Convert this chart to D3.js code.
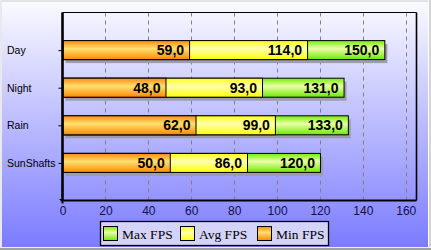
<!DOCTYPE html>
<html>
<head>
<meta charset="utf-8">
<script src="https://cdn.jsdelivr.net/npm/d3@7"></script>
<style>
html,body{margin:0;padding:0;background:#fff;}
svg{display:block;}
</style>
</head>
<body>
<svg id="chart" width="431" height="250"></svg>
<script>
const categories = ["Day", "Night", "Rain", "SunShafts"];
const maxFps = [150, 131, 133, 120];
const avgFps = [114, 93, 99, 86];
const minFps = [59, 48, 62, 50];
const seriesNames = ["Max FPS", "Avg FPS", "Min FPS"];
const xTicks = [0, 20, 40, 60, 80, 100, 120, 140, 160];

const W = 431, H = 250;
const plot = {left: 62.5, right: 416.5, top: 12.5, bottom: 200.5};
const svg = d3.select("#chart");
const defs = svg.append("defs");

const bg = defs.append("linearGradient").attr("id", "bg").attr("x1", 0).attr("y1", 0).attr("x2", 0).attr("y2", 1);
bg.append("stop").attr("offset", "0%").attr("stop-color", "#fbfbff");
bg.append("stop").attr("offset", "100%").attr("stop-color", "#7a7aff");

const grads = {
  "Max FPS": ["#74ee00", "#eaffa8", "#6ee800"],
  "Avg FPS": ["#ffff10", "#ffffb0", "#ffff00"],
  "Min FPS": ["#ff8a10", "#ffe070", "#ff8800"]
};
seriesNames.forEach((s, i) => {
  const g = defs.append("linearGradient").attr("id", "g" + i).attr("x1", 0).attr("y1", 0).attr("x2", 0).attr("y2", 1);
  g.append("stop").attr("offset", "0%").attr("stop-color", grads[s][0]);
  g.append("stop").attr("offset", "42%").attr("stop-color", grads[s][1]);
  g.append("stop").attr("offset", "100%").attr("stop-color", grads[s][2]);
});

svg.append("rect").attr("x", 0).attr("y", 0).attr("width", W).attr("height", H).attr("fill", "url(#bg)");
svg.append("rect").attr("x", 0).attr("y", 0).attr("width", W).attr("height", 2).attr("fill", "#e2e2e2");
svg.append("rect").attr("x", 0).attr("y", 0).attr("width", 2).attr("height", H).attr("fill", "#e8e8ee");
svg.append("rect").attr("x", W - 3).attr("y", 0).attr("width", 1).attr("height", H).attr("fill", "#ffffff");
svg.append("rect").attr("x", W - 2).attr("y", 0).attr("width", 2).attr("height", H).attr("fill", "#d4d4d4");
svg.append("rect").attr("x", 0).attr("y", H - 3).attr("width", W).attr("height", 1).attr("fill", "#f0f0f0");
svg.append("rect").attr("x", 0).attr("y", H - 2).attr("width", W).attr("height", 2).attr("fill", "#a0a0a0");

const x = d3.scaleLinear().domain([0, 165]).range([plot.left, plot.right]);
const y = d3.scalePoint().domain(categories).range([plot.top, plot.bottom]).padding(1);
const barH = 19;

svg.append("g").selectAll("line").data(xTicks.filter(t => t > 0)).join("line")
  .attr("x1", d => Math.round(x(d)) + 0.5).attr("x2", d => Math.round(x(d)) + 0.5)
  .attr("y1", plot.top).attr("y2", plot.bottom)
  .attr("stroke", "#808080").attr("stroke-width", 1).attr("stroke-dasharray", "4,4");

svg.append("line").attr("x1", plot.left).attr("x2", plot.right).attr("y1", plot.top).attr("y2", plot.top)
  .attr("stroke", "#000").attr("stroke-width", 1.2);
svg.append("line").attr("x1", plot.right).attr("x2", plot.right).attr("y1", plot.top).attr("y2", plot.bottom)
  .attr("stroke", "#000").attr("stroke-width", 1.6);

svg.append("g").selectAll("rect").data(categories).join("rect")
  .attr("x", x(0) + 3).attr("y", (d) => y(d) - barH / 2 + 3.5)
  .attr("width", (d, i) => x(maxFps[i]) - x(0))
  .attr("height", barH).attr("fill", "#9c9cae");

const seriesData = [maxFps, avgFps, minFps];
const fmt = v => v.toFixed(1).replace(".", ",");
seriesData.forEach((vals, si) => {
  svg.append("g").selectAll("rect").data(categories).join("rect")
    .attr("x", x(0) + 0.5)
    .attr("y", d => y(d) - barH / 2)
    .attr("width", (d, i) => x(vals[i]) - x(0))
    .attr("height", barH)
    .attr("fill", "url(#g" + si + ")")
    .attr("stroke", "#000").attr("stroke-width", 1);
});
seriesData.forEach((vals) => {
  svg.append("g").selectAll("text").data(categories).join("text")
    .attr("x", (d, i) => x(vals[i]) - 5)
    .attr("y", d => y(d) + 5)
    .attr("text-anchor", "end")
    .attr("font-family", "Liberation Sans, Arial, sans-serif")
    .attr("font-weight", "bold").attr("font-size", 14)
    .attr("fill", "#000")
    .text((d, i) => fmt(vals[i]));
});

const xAxis = d3.axisBottom(x).tickValues(xTicks).tickSize(0).tickPadding(6).tickFormat(d3.format("d"));
const gx = svg.append("g").attr("transform", `translate(0,${plot.bottom})`).call(xAxis);
gx.select(".domain").attr("stroke", "#000").attr("stroke-width", 2.2).attr("d", `M${plot.left - 2},0H${plot.right}`);
gx.selectAll("text").attr("font-family", "Liberation Sans, Arial, sans-serif").attr("font-size", 12).attr("fill", "#10104a");
gx.append("line").attr("x1", plot.left).attr("x2", plot.left).attr("y1", 0).attr("y2", 3).attr("stroke", "#000").attr("stroke-width", 2);

const yAxis = d3.axisLeft(y).tickSize(4).tickFormat("");
const gy = svg.append("g").attr("transform", `translate(${plot.left},0)`).call(yAxis);
gy.select(".domain").attr("stroke", "#000").attr("stroke-width", 2.6).attr("d", `M0,${plot.top}V${plot.bottom}`);
gy.selectAll(".tick line").attr("stroke", "#000");
gy.append("line").attr("x1", -3).attr("x2", 0).attr("y1", plot.bottom - 1).attr("y2", plot.bottom - 1).attr("stroke", "#000");

svg.append("g").selectAll("text").data(categories).join("text")
  .attr("x", 7).attr("y", d => y(d) + 4)
  .attr("font-family", "Liberation Sans, Arial, sans-serif").attr("font-size", 10.5)
  .attr("fill", "#000").text(d => d);

const lg = svg.append("g");
lg.append("rect").attr("x", 100.5).attr("y", 221.5).attr("width", 228).attr("height", 24)
  .attr("fill", "#d4d4fa").attr("stroke", "#000").attr("stroke-width", 1.3);
const legX = [103, 180, 257];
seriesNames.forEach((s, i) => {
  lg.append("rect").attr("x", legX[i] + 0.5).attr("y", 226.5).attr("width", 14).attr("height", 14)
    .attr("fill", "url(#g" + i + ")").attr("stroke", "#000").attr("stroke-width", 1);
  lg.append("text").attr("x", legX[i] + 19).attr("y", 238.5)
    .attr("font-family", "Liberation Serif, Times New Roman, serif").attr("font-size", 13.5)
    .attr("fill", "#000").text(s);
});
</script>
</body>
</html>
